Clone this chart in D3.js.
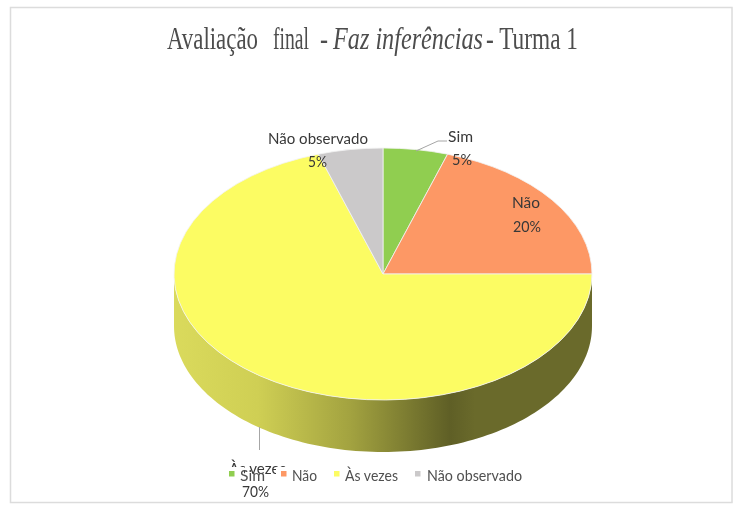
<!DOCTYPE html>
<html><head><meta charset="utf-8">
<script src="https://cdn.jsdelivr.net/npm/d3@7/dist/d3.min.js"></script>
<style>html,body{margin:0;padding:0;background:#fff}svg{display:block;filter:blur(0.35px)}</style>
</head><body><svg id="c" width="738" height="511"></svg>
<script>
const categories = ["Sim", "Não", "Às vezes", "Não observado"];
const values = [5, 20, 70, 5];
const percentLabels = ["5%", "20%", "70%", "5%"];
const colors = ["#90ce50", "#fd9865", "#fcfc63", "#cbc9ca"];

const svg = d3.select("#c");
const cx = 383, cy = 274, rx = 209, ry = 126, depth = 52;
const squash = ry / rx;

svg.append("rect").attr("x", 10.5).attr("y", 7.5).attr("width", 721.5).attr("height", 495)
  .attr("fill", "#fff").attr("stroke", "#dcdcdc").attr("stroke-width", 1.5);

// title, set piece by piece so each run takes the reference's width
const titleRuns = [
  ["Avaliação", 167, 91, "normal"],
  ["final", 273, 36, "normal"],
  ["-", 320, 8, "normal"],
  ["Faz inferências", 333, 150, "italic"],
  ["- Turma 1", 486, 92, "normal"]
];
svg.append("g").attr("font-family", "Liberation Serif").attr("font-size", 31).attr("fill", "#4d4d4d")
  .selectAll("text").data(titleRuns).join("text")
  .attr("x", d => d[1]).attr("y", 49).attr("textLength", d => d[2])
  .attr("lengthAdjust", "spacingAndGlyphs").attr("font-style", d => d[3]).text(d => d[0]);

// gradient for side wall
const grad = svg.append("defs").append("linearGradient").attr("id", "wall").attr("gradientUnits", "userSpaceOnUse")
  .attr("x1", cx - rx).attr("x2", cx + rx).attr("y1", 0).attr("y2", 0);
[[0, "#dada5c"], [0.2, "#cfcf54"], [0.42, "#a3a340"], [0.66, "#5f5f26"], [0.72, "#6a6a2b"], [1, "#6a6a2b"]]
  .forEach(([o, c]) => grad.append("stop").attr("offset", o).attr("stop-color", c));

const pie = d3.pie().sort(null).value(d => d);
const arcs = pie(values);
const arc = d3.arc().innerRadius(0).outerRadius(rx);

// side wall: lower half of the ellipse, extruded by depth
const wallX = d3.scaleLinear().domain([-1, 1]).range([cx - rx, cx + rx]);
const wallSteps = d3.range(0, 121).map(i => Math.PI / 2 + i * Math.PI / 120);
const outerEdge = wallSteps.map(a => [wallX(Math.sin(a)), cy - Math.cos(a) * ry]);
const lowerEdge = outerEdge.slice().reverse().map(([x, y]) => [x, y + depth]);
svg.append("path").attr("d", d3.line()(outerEdge.concat(lowerEdge)) + "Z").attr("fill", "url(#wall)");

// top face
svg.append("g").attr("transform", `translate(${cx},${cy}) scale(1,${squash})`)
  .selectAll("path").data(arcs).join("path")
  .attr("d", arc).attr("fill", (d, i) => colors[i])
  .attr("stroke", "#f2f2f2").attr("stroke-width", 1).attr("stroke-linejoin", "round");

// leader lines
svg.append("path").attr("d", "M416 151L438 141L447 141").attr("fill", "none").attr("stroke", "#a6a6a6");
svg.append("path").attr("d", "M259.5 427V450").attr("fill", "none").attr("stroke", "#a6a6a6");

// data labels: name x, y, width, then percent x, y, width
const lblFont = "Lato";
const labelPos = [
  [448, 142, 25, 452, 165, 20],
  [512, 208, 28, 513, 232, 28],
  [229, 474, 57, 242, 497, 27],
  [268, 144, 100, 308, 167, 19]
];
const labels = svg.append("g").attr("font-family", lblFont).attr("font-size", 16).attr("fill", "#383838");
const addLabel = (g, x, y, w, t) => g.append("text").attr("x", x).attr("y", y)
  .attr("textLength", w).attr("lengthAdjust", "spacingAndGlyphs").text(t);
categories.forEach((c, i) => {
  const [x1, y1, w1, x2, y2, w2] = labelPos[i];
  addLabel(labels, x1, y1, w1, c);
  addLabel(labels, x2, y2, w2, percentLabels[i]);
});

// the legend's key and text boxes cover parts of the "Às vezes" label
svg.append("rect").attr("x", 226).attr("y", 467).attr("width", 18).attr("height", 14).attr("fill", "#fff");
svg.append("rect").attr("x", 276).attr("y", 467).attr("width", 14).attr("height", 14).attr("fill", "#fff");

// legend: key x, text x, text width
const legendItems = [[229, 240, 25], [281, 292, 25], [334, 345, 53], [415, 427, 95]];
const legend = svg.append("g").attr("font-family", lblFont).attr("font-size", 16).attr("fill", "#505050");
categories.forEach((c, i) => {
  const [sx, tx, w] = legendItems[i];
  legend.append("rect").attr("x", sx).attr("y", 471).attr("width", 5.5).attr("height", 5.5).attr("fill", colors[i]);
  addLabel(legend, tx, 481, w, c);
});
</script></body></html>
